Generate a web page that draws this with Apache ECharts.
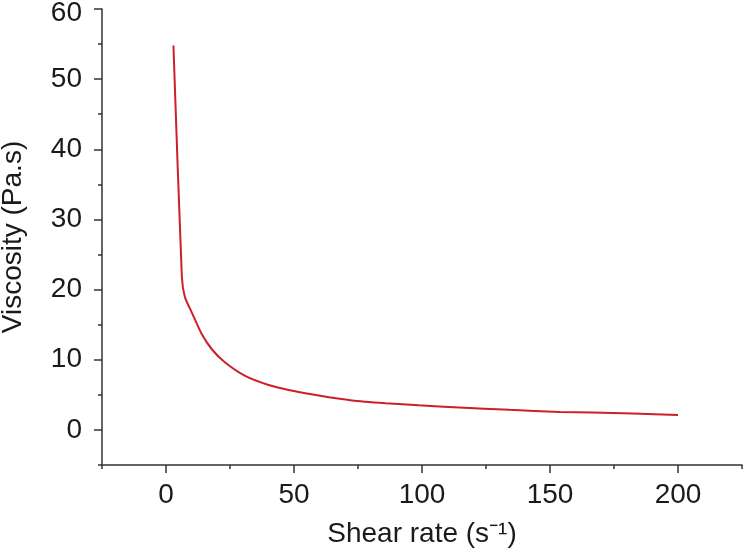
<!DOCTYPE html>
<html>
<head>
<meta charset="utf-8">
<script src="https://cdn.jsdelivr.net/npm/echarts@6/dist/echarts.min.js"></script>
<style>html,body{margin:0;padding:0;background:#fff;}#chart{width:750px;height:554px;}</style>
</head>
<body>
<div id="chart"></div>
<script>
// Shear rate (s^-1)
const shearRate = [2.9, 6.2, 7.4, 10.0, 13.9, 17.9, 23.1, 30.9, 40.1, 47.9, 59.7, 72.7, 85.8, 98.8, 114.5, 134.1, 153.7, 166.7, 182.4, 200];
// Viscosity (Pa.s)
const viscosity = [54.8, 21.8, 18.9, 16.8, 13.7, 11.5, 9.6, 7.7, 6.4, 5.7, 4.9, 4.2, 3.8, 3.5, 3.2, 2.86, 2.57, 2.47, 2.33, 2.14];

const xLabels = [0, 50, 100, 150, 200];
const yLabels = [0, 10, 20, 30, 40, 50, 60];

const axisColor = '#333';
const font = 'Liberation Sans, Arial, sans-serif';

const chart = echarts.init(document.getElementById('chart'));
chart.setOption({
  animation: false,
  grid: { left: 102, right: 8, top: 9, bottom: 89, containLabel: false, outerBoundsMode: 'none' },
  xAxis: [
    {
      type: 'value', min: -25, max: 225, interval: 25,
      name: 'Shear rate (s\u207B\u00B9)', nameLocation: 'middle', nameGap: 55,
      nameTextStyle: { fontSize: 28, color: '#1a1a1a', fontFamily: font },
      axisLine: { onZero: false, lineStyle: { color: axisColor, width: 1.5 } },
      axisTick: { customValues: xLabels, length: 8, lineStyle: { color: axisColor, width: 1.5 } },
      axisLabel: { customValues: xLabels, fontSize: 28, color: '#1a1a1a', fontFamily: font, margin: 16 },
      splitLine: { show: false }
    },
    {
      type: 'value', min: -25, max: 225, interval: 25, position: 'bottom', offset: 0,
      axisLine: { show: false, onZero: false },
      axisTick: { show: true, length: 4, lineStyle: { color: axisColor, width: 1.5 } },
      axisLabel: { show: false },
      splitLine: { show: false }
    }
  ],
  yAxis: [
    {
      type: 'value', min: -5, max: 60, interval: 5,
      name: 'Viscosity (Pa.s)', nameLocation: 'middle', nameGap: 75,
      nameTextStyle: { fontSize: 28, color: '#1a1a1a', fontFamily: font },
      axisLine: { show: true, onZero: false, lineStyle: { color: axisColor, width: 1.5 } },
      axisTick: { show: true, customValues: yLabels, length: 8, lineStyle: { color: axisColor, width: 1.5 } },
      axisLabel: {
        customValues: yLabels, fontSize: 28, color: '#1a1a1a', fontFamily: font, margin: 20,
        formatter: function (v) { return v === 60 ? '{top|' + v + '}' : String(v); },
        rich: { top: { fontSize: 28, color: '#1a1a1a', fontFamily: font, padding: [9, 0, 0, 0] } }
      },
      splitLine: { show: false }
    },
    {
      type: 'value', min: -5, max: 60, interval: 5, position: 'left', offset: 0,
      axisLine: { show: false, onZero: false },
      axisTick: { show: true, length: 4, lineStyle: { color: axisColor, width: 1.5 } },
      axisLabel: { show: false },
      splitLine: { show: false }
    }
  ],
  series: [
    {
      type: 'line',
      xAxisIndex: 0, yAxisIndex: 0,
      data: shearRate.map((x, i) => [x, viscosity[i]]),
      showSymbol: false,
      smooth: 0.2,
      lineStyle: { color: '#cc1f28', width: 2 },
      itemStyle: { color: '#cc1f28' }
    }
  ]
});
</script>
</body>
</html>
